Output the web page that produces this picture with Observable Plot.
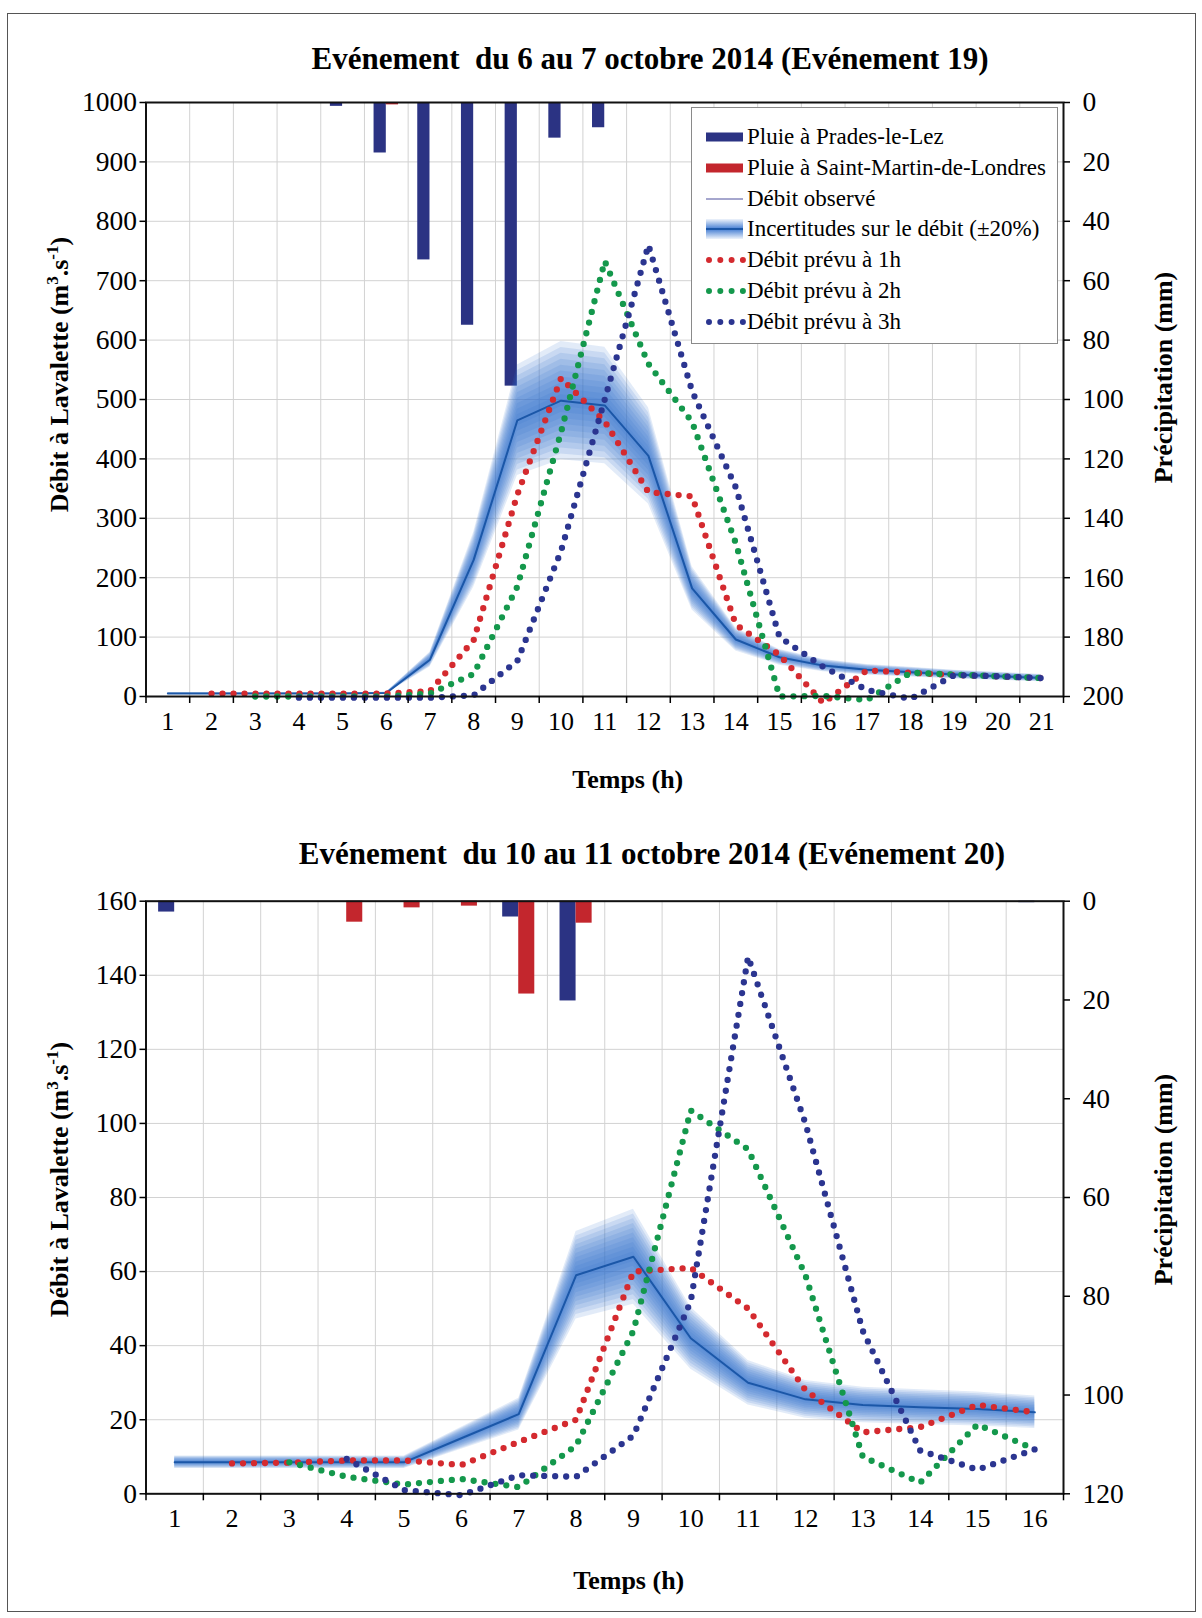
<!DOCTYPE html>
<html>
<head>
<meta charset="utf-8">
<script src="https://cdn.jsdelivr.net/npm/d3@7"></script>
<script src="https://cdn.jsdelivr.net/npm/@observablehq/plot@0.6"></script>
<style>
  body { margin: 0; background: #fff; }
  #page { position: relative; width: 1202px; height: 1618px; font-family: "Liberation Serif", "Times New Roman", serif; color: #000; overflow: hidden; }
  #border { position: absolute; left: 7px; top: 13px; width: 1189px; height: 1599px; border: 1.5px solid #555; box-sizing: border-box; }
  .title { position: absolute; width: 1200px; text-align: center; font-weight: bold; font-size: 31px; line-height: 30px; white-space: pre; }
  .chart { position: absolute; left: 0; }
  #legend { position: absolute; left: 691px; top: 107px; width: 367px; height: 237px; border: 1px solid #8a8a8a; background: #fff; box-sizing: border-box; font-size: 23px; }
  .lrow { position: absolute; left: 0; height: 26px; line-height: 26px; width: 100%; }
  .lrow svg { position: absolute; left: 14px; top: 0; }
  .lrow span { position: absolute; left: 55px; top: 0; white-space: nowrap; }
</style>
</head>
<body>
<div id="page">
  <div id="border"></div>
  <div class="title" style="left:50px; top:44px;">Evénement  du 6 au 7 octobre 2014 (Evénement 19)</div>
  <div class="title" style="left:52px; top:839px;">Evénement  du 10 au 11 octobre 2014 (Evénement 20)</div>
  <div class="chart" id="chartTop" style="top:80px;"></div>
  <div class="chart" id="chartBottom" style="top:880px;"></div>
  <div id="legend"></div>
</div>
<script>
// ---------- Data: Evénement 19 (top) ----------
const hoursTop = [1,2,3,4,5,6,7,8,9,10,11,12,13,14,15,16,17,18,19,20,21];
const obsTop   = [5,5,5,5,5,6,62,230,465,498,490,405,182,96,66,52,45,41,37,34,31];
const prev1Top = [null,5,5,5,5,5,9,95,340,536,463,344,337,121,70,-11,44,40,36,34,31];
const prev2Top = [null,null,0,0,0,0,5,38,185,445,733,560,462,258,0,1,-6,40,37,34,31];
const prev3Top = [null,null,null,-2,-2,-2,-2,2,60,245,500,760,514,352,100,50,11,-4,36,34,31];
const pradesTop   = [0,0,0,0,1.3,17,53,75,95.5,12,8.5,0,0,0,0,0,0,0,0,0,0];
const stMartinTop = [0,0,0,0,0,0.8,0,0,0,0,0,0,0,0,0,0,0,0,0,0,0];
const debitTicksTop = [0,100,200,300,400,500,600,700,800,900,1000];
const pluieTicksTop = [0,20,40,60,80,100,120,140,160,180,200];

// ---------- Data: Evénement 20 (bottom) ----------
const hoursBot = [1,2,3,4,5,6,7,8,9,10,11,12,13,14,15,16];
const obsBot   = [8.5,8.5,8.5,8.5,8.5,15,21.5,59,64,42,30,25.5,24,23.4,22.9,22];
const prev1Bot = [null,8.2,8.4,9,9,7.8,14,20,60,61,50,28,16.6,18,24,22];
const prev2Bot = [null,null,8.5,4.6,2.5,4,1.8,13,44,103.5,93,59,10,3,18.7,12];
const prev3Bot = [null,null,null,9.4,1,-0.4,5,4.6,15.7,52,145,100,44,11.7,6.5,12];
const pradesBot   = [2.2,0,0,0,0,0,3.2,20.2,0,0,0,0,0,0,0,0.3];
const stMartinBot = [0,0,0,4.25,1.35,1.0,18.8,4.45,0,0,0,0,0,0,0,0];
const debitTicksBot = [0,20,40,60,80,100,120,140,160];
const pluieTicksBot = [0,20,40,60,80,100,120];

// ---------- Styles ----------
const FONT = "'Liberation Serif', 'Times New Roman', serif";
const C = {
  prades: "#2b3383", stMartin: "#c3262d",
  obs: "#1b57a8", band: "#2f6fce",
  p1: "#d42a2f", p2: "#14984c", p3: "#2b3590",
  grid: "#d2d2d2"
};

function makeChart(cfg) {
  const n = cfg.hours.length;
  const ymax = cfg.debitTicks[cfg.debitTicks.length - 1];
  const pmax = cfg.pluieTicks[cfg.pluieTicks.length - 1];
  const k = ymax / pmax;
  const toY = p => ymax - p * k;
  const rows = cfg.hours.map((h, i) => ({
    h, obs: cfg.obs[i], p1: cfg.p1[i], p2: cfg.p2[i], p3: cfg.p3[i],
    pa: cfg.rainA[i], pb: cfg.rainB[i]
  }));
  const bw = 0.28;
  const bounds = d3.range(0.5, n + 1, 1);

  const bandLayers = [];
  for (let j = 10; j >= 1; j--) {
    const f = 0.02 * j;
    bandLayers.push(Plot.areaY(rows, {
      x: "h", y1: d => d.obs * (1 - f), y2: d => d.obs * (1 + f),
      fill: C.band, fillOpacity: 0.14
    }));
  }
  const dotted = (key, color) => Plot.line(rows.filter(d => d[key] != null), {
    x: "h", y: key, stroke: color, strokeWidth: 6.3,
    strokeDasharray: "0,11", strokeLinecap: "round", strokeLinejoin: "round"
  });
  const yText = { fontFamily: FONT, fontSize: 27.5, fill: "#000" };
  const xText = { fontFamily: FONT, fontSize: 26, fill: "#000" };

  const svg = Plot.plot({
    width: 1202, height: cfg.height,
    marginLeft: 145.5, marginRight: 139, marginTop: cfg.mt, marginBottom: cfg.mb,
    style: { fontFamily: FONT, fontSize: "26px", color: "#000", overflow: "visible", background: "transparent" },
    x: { domain: [0.5, n + 0.5] },
    y: { domain: [0, ymax] },
    marks: [
      Plot.gridY({ ticks: cfg.debitTicks, stroke: C.grid, strokeOpacity: 1, strokeWidth: 1 }),
      Plot.gridX({ ticks: bounds, stroke: C.grid, strokeOpacity: 1, strokeWidth: 1 }),
      Plot.rect(rows.filter(d => d.pa > 0), { x1: d => d.h - bw, x2: d => d.h, y1: () => ymax, y2: d => toY(d.pa), fill: C.prades }),
      Plot.rect(rows.filter(d => d.pb > 0), { x1: d => d.h, x2: d => d.h + bw, y1: () => ymax, y2: d => toY(d.pb), fill: C.stMartin }),
      ...bandLayers,
      Plot.line(rows, { x: "h", y: "obs", stroke: C.obs, strokeWidth: 2 }),
      dotted("p1", C.p1),
      dotted("p2", C.p2),
      dotted("p3", C.p3),
      Plot.frame({ stroke: "#111", strokeWidth: 2 }),
      Plot.axisY({ anchor: "left", ticks: cfg.debitTicks, tickFormat: d => String(d), tickSize: 6, tickPadding: 3, label: null, strokeWidth: 1.5, ...yText }),
      Plot.axisY({ anchor: "right", ticks: cfg.pluieTicks.map(toY), tickFormat: d => String(Math.round((ymax - d) / k)), tickSize: 6, tickPadding: 13, label: null, strokeWidth: 1.5, ...yText }),
      Plot.axisX({ ticks: cfg.hours, tickFormat: d => String(d), tickSize: 0, tickPadding: 15, label: null, ...xText }),
      Plot.axisX({ ticks: bounds, tickSize: 7, tickFormat: () => "", label: null, strokeWidth: 1.5 }),
      Plot.text(["Temps (h)"], { text: d => d, frameAnchor: "bottom", textAnchor: "middle", lineAnchor: "middle", dx: cfg.xLabelDx, dy: cfg.xLabelDy, fontWeight: "bold", fontSize: 26, fontFamily: FONT }),
      Plot.text(["Débit à Lavalette (m3.s-1)"], { text: d => d, frameAnchor: "left", textAnchor: "middle", lineAnchor: "middle", rotate: -90, dx: -86.5, dy: cfg.leftLabelDy, fontWeight: "bold", fontSize: 26, fontFamily: FONT }),
      Plot.text(["Précipitation (mm)"], { text: d => d, frameAnchor: "right", textAnchor: "middle", lineAnchor: "middle", rotate: -90, dx: 100, dy: cfg.rightLabelDy, fontWeight: "bold", fontSize: 26, fontFamily: FONT })
    ]
  });

  // superscripts in the discharge unit
  svg.querySelectorAll("text").forEach(t => {
    if (t.textContent === "Débit à Lavalette (m3.s-1)") {
      t.innerHTML = 'Débit à Lavalette (m<tspan dy="-10" font-size="17">3</tspan><tspan dy="10">.s</tspan><tspan dy="-10" font-size="17">-1</tspan><tspan dy="10">)</tspan>';
    }
  });
  return svg;
}

document.getElementById("chartTop").append(makeChart({
  hours: hoursTop, obs: obsTop, p1: prev1Top, p2: prev2Top, p3: prev3Top,
  rainA: pradesTop, rainB: stMartinTop,
  debitTicks: debitTicksTop, pluieTicks: pluieTicksTop,
  height: 720, mt: 22, mb: 104,
  xLabelDx: 23, xLabelDy: 83, leftLabelDy: -25, rightLabelDy: -22
}));

document.getElementById("chartBottom").append(makeChart({
  hours: hoursBot, obs: obsBot, p1: prev1Bot, p2: prev2Bot, p3: prev3Bot,
  rainA: pradesBot, rainB: stMartinBot,
  debitTicks: debitTicksBot, pluieTicks: pluieTicksBot,
  height: 720, mt: 20.7, mb: 106.7,
  xLabelDx: 24, xLabelDy: 87, leftLabelDy: -18, rightLabelDy: -18
}));

// ---------- Legend ----------
const legendItems = [
  { label: "Pluie à Prades-le-Lez", kind: "rect", color: C.prades },
  { label: "Pluie à Saint-Martin-de-Londres", kind: "rect", color: C.stMartin },
  { label: "Débit observé", kind: "thin", color: "#4d4f9c" },
  { label: "Incertitudes sur le débit (\u00B120%)", kind: "band", color: C.band },
  { label: "Débit prévu à 1h", kind: "dots", color: C.p1 },
  { label: "Débit prévu à 2h", kind: "dots", color: C.p2 },
  { label: "Débit prévu à 3h", kind: "dots", color: C.p3 }
];
const legend = document.getElementById("legend");
legendItems.forEach((it, i) => {
  const center = 136 + i * 30.8 - 107;
  const row = document.createElement("div");
  row.className = "lrow";
  row.style.top = (center - 13) + "px";
  let sw = "";
  if (it.kind === "rect") sw = `<rect x="0" y="8.5" width="37" height="9" fill="${it.color}"/>`;
  if (it.kind === "thin") sw = `<line x1="0" x2="37" y1="13" y2="13" stroke="${it.color}" stroke-width="1"/>`;
  if (it.kind === "band") sw = `<defs><linearGradient id="bg" x1="0" y1="0" x2="0" y2="1"><stop offset="0" stop-color="#2f6fce" stop-opacity="0.08"/><stop offset="0.5" stop-color="#2f6fce" stop-opacity="0.9"/><stop offset="1" stop-color="#2f6fce" stop-opacity="0.08"/></linearGradient></defs><rect x="0" y="3" width="37" height="20" fill="url(#bg)"/><line x1="0" x2="37" y1="13" y2="13" stroke="${C.obs}" stroke-width="2"/>`;
  if (it.kind === "dots") sw = `<line x1="3" x2="37" y1="13" y2="13" stroke="${it.color}" stroke-width="6" stroke-dasharray="0,11.3" stroke-linecap="round"/>`;
  row.innerHTML = `<svg width="40" height="26">${sw}</svg><span>${it.label}</span>`;
  legend.appendChild(row);
});
</script>
</body>
</html>
